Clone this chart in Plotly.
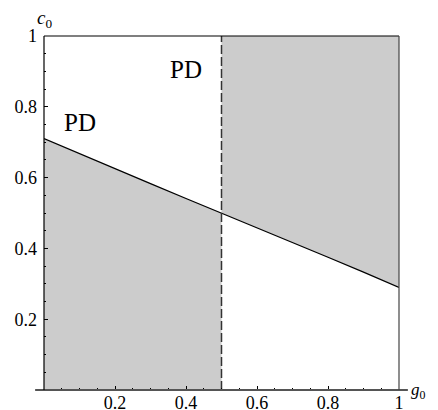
import plotly.graph_objects as go

# data
g0 = [0.0, 0.1, 0.2, 0.3, 0.4, 0.5, 0.6, 0.7, 0.8, 0.9, 1.0]
c0 = [0.71, 0.667, 0.625, 0.583, 0.541, 0.5, 0.459, 0.418, 0.375, 0.333, 0.29]
g_split = 0.5
c_top = 1.0
tick_vals = [0.2, 0.4, 0.6, 0.8, 1.0]
tick_text = ["0.2", "0.4", "0.6", "0.8", "1"]
labels = ["PD", "PD"]
label_x = [0.10, 0.40]
label_y = [0.757, 0.905]

GRAY = "#cccccc"
FONT = "Liberation Serif"

left_g = [g for g in g0 if g <= g_split]
left_c = [c for g, c in zip(g0, c0) if g <= g_split]
right_g = [g for g in g0 if g >= g_split]
right_c = [c for g, c in zip(g0, c0) if g >= g_split]

fig = go.Figure()
# left shaded region (below curve)
fig.add_trace(go.Scatter(x=left_g, y=left_c, mode="lines", line=dict(width=0),
                         fill="tozeroy", fillcolor=GRAY, hoverinfo="skip"))
# right shaded region (above curve)
fig.add_trace(go.Scatter(x=right_g, y=[c_top] * len(right_g), mode="lines",
                         line=dict(width=0), hoverinfo="skip"))
fig.add_trace(go.Scatter(x=right_g, y=right_c, mode="lines", line=dict(width=0),
                         fill="tonexty", fillcolor=GRAY, hoverinfo="skip"))
# boundary curve
fig.add_trace(go.Scatter(x=g0, y=c0, mode="lines", line=dict(color="black", width=1.3),
                         hoverinfo="skip"))
# dashed vertical line
fig.add_trace(go.Scatter(x=[g_split, g_split], y=[0, c_top], mode="lines",
                         line=dict(color="#333333", width=1.5, dash="9px,3px"),
                         hoverinfo="skip"))

for t, x, y in zip(labels, label_x, label_y):
    fig.add_annotation(x=x, y=y, text=t, showarrow=False, xref="x", yref="y",
                       font=dict(family=FONT, size=25, color="black"))

# axis titles
fig.add_annotation(x=0.0, y=1.048, xref="paper", yref="paper", text="<i>c</i><sub>0</sub>",
                   showarrow=False, xanchor="center", yanchor="middle",
                   font=dict(family=FONT, size=19, color="black"))
fig.add_annotation(x=1.083, y=-0.004, xref="paper", yref="paper", text="<i>g</i><sub>0</sub>",
                   showarrow=False, xanchor="right", yanchor="middle",
                   font=dict(family=FONT, size=17, color="black"))

# extended axis lines and frame
fig.add_shape(type="line", xref="paper", yref="paper", x0=-0.025, x1=1.025, y0=0, y1=0,
              line=dict(color="#555555", width=2), layer="above")
fig.add_shape(type="line", xref="paper", yref="paper", x0=0, x1=0, y0=0, y1=1,
              line=dict(color="black", width=1.2), layer="above")
fig.add_shape(type="line", xref="paper", yref="paper", x0=0, x1=1, y0=1, y1=1,
              line=dict(color="black", width=1.2), layer="above")
fig.add_shape(type="line", xref="paper", yref="paper", x0=1, x1=1, y0=0, y1=1,
              line=dict(color="#444444", width=1.2), layer="above")

axis_common = dict(range=[0, 1], showgrid=False, zeroline=False, showline=False,
                   automargin=False,
                   ticks="inside", ticklen=4, tickwidth=1, tickcolor="black",
                   tickvals=tick_vals, ticktext=tick_text,
                   tickfont=dict(family=FONT, size=18, color="black"),
                   minor=dict(ticks="inside", ticklen=2, tickcolor="black", dtick=0.05,
                              tick0=0, showgrid=False))
fig.update_xaxes(**axis_common)
fig.update_yaxes(**axis_common)
fig.update_yaxes(ticklabelstandoff=6)

# page is shown with an 8px offset, so margins compensate
fig.update_layout(width=438, height=410, margin=dict(l=36, r=47, t=28, b=28),
                  plot_bgcolor="white", paper_bgcolor="white", showlegend=False)

fig.write_html("out.html")
